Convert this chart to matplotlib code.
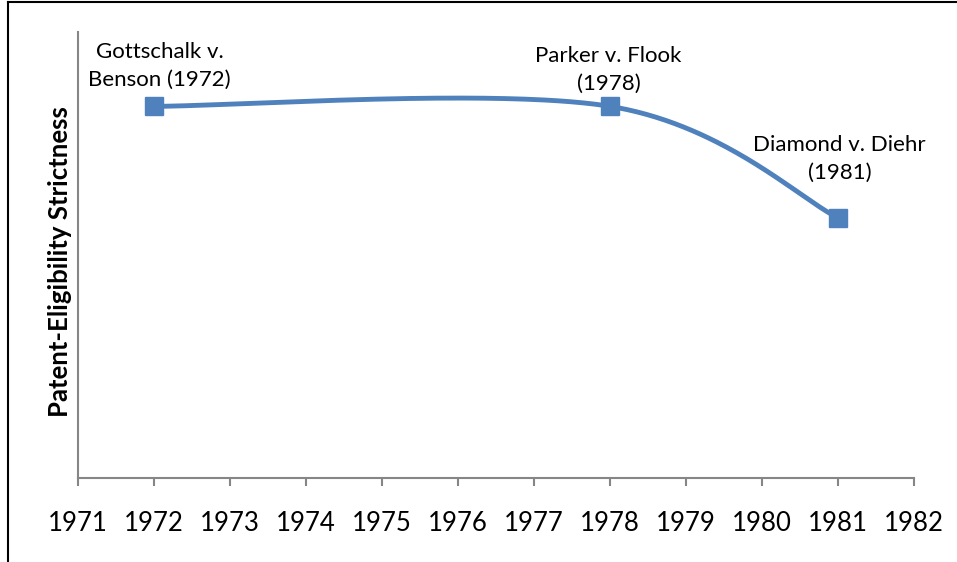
import numpy as np
import matplotlib
matplotlib.use("Agg")
import matplotlib.pyplot as plt
from matplotlib.lines import Line2D

plt.rcParams['font.family'] = ['Lato', 'DejaVu Sans']

# Data
years = [1972, 1978, 1981]
strictness = [10, 10, 7]
case_labels = ["Gottschalk v.\nBenson (1972)", "Parker v. Flook\n(1978)", "Diamond v. Diehr\n(1981)"]
xticks = list(range(1971, 1983))
ylabel = "Patent-Eligibility Strictness"

color = "#4F81BD"
axis_gray = "#868686"

W, H = 957, 562
fig = plt.figure(figsize=(W / 100, H / 100), dpi=100)
ax = fig.add_axes([78 / W, (H - 478) / H, (914 - 78) / W, (478 - 32) / H])

# Excel-style smoothed line (cubic Bezier through points, Catmull-Rom tangents / 6)
def smooth(xs, ys, n=100):
    P = np.column_stack([xs, ys]).astype(float)
    out = []
    for i in range(len(P) - 1):
        p0 = P[i - 1] if i > 0 else P[i]
        p1, p2 = P[i], P[i + 1]
        p3 = P[i + 2] if i + 2 < len(P) else P[i + 1]
        c1 = p1 + (p2 - p0) / 6
        c2 = p2 - (p3 - p1) / 6
        t = np.linspace(0, 1, n)[:, None]
        seg = ((1 - t) ** 3) * p1 + 3 * ((1 - t) ** 2) * t * c1 + 3 * (1 - t) * t ** 2 * c2 + t ** 3 * p2
        out.append(seg)
    return np.vstack(out)

curve = smooth(years, strictness)
ax.plot(curve[:, 0], curve[:, 1], color=color, lw=3.5, solid_capstyle='round', zorder=2)
ax.plot(years, strictness, linestyle='none', marker='s', markersize=13.5,
        color=color, markeredgecolor=color, zorder=3)

offsets = [(4, 12), (-1, 9), (1, 25)]
for x, y, lab, off in zip(years, strictness, case_labels, offsets):
    ax.annotate(lab, (x, y), xytext=off, textcoords='offset points',
                ha='center', va='bottom', fontsize=16, linespacing=1.5, color='black')

ax.set_xlim(1971, 1982)
ax.set_ylim(0, 12)
ax.set_xticks(xticks)
ax.set_xticklabels([str(v) for v in xticks], fontsize=18.5)
ax.set_yticks([])
ax.tick_params(axis='x', length=6, width=1.5, color=axis_gray, pad=18)
for s in ['top', 'right']:
    ax.spines[s].set_visible(False)
for s in ['left', 'bottom']:
    ax.spines[s].set_color(axis_gray)
    ax.spines[s].set_linewidth(1.5)

ax.set_ylabel(ylabel, fontsize=18.5, fontweight='bold')
ax.yaxis.set_label_coords(-(78 - 60) / (914 - 78), 0.485)
ax.yaxis.label.set_va('center')

# Outer frame (top and left only visible)
fig.add_artist(Line2D([8 / W, 8 / W], [0, 1 - 2 / H], transform=fig.transFigure, color='black', lw=1.5))
fig.add_artist(Line2D([8 / W, 1], [1 - 2 / H, 1 - 2 / H], transform=fig.transFigure, color='black', lw=1.5))

fig.savefig("out.png", dpi=100)
